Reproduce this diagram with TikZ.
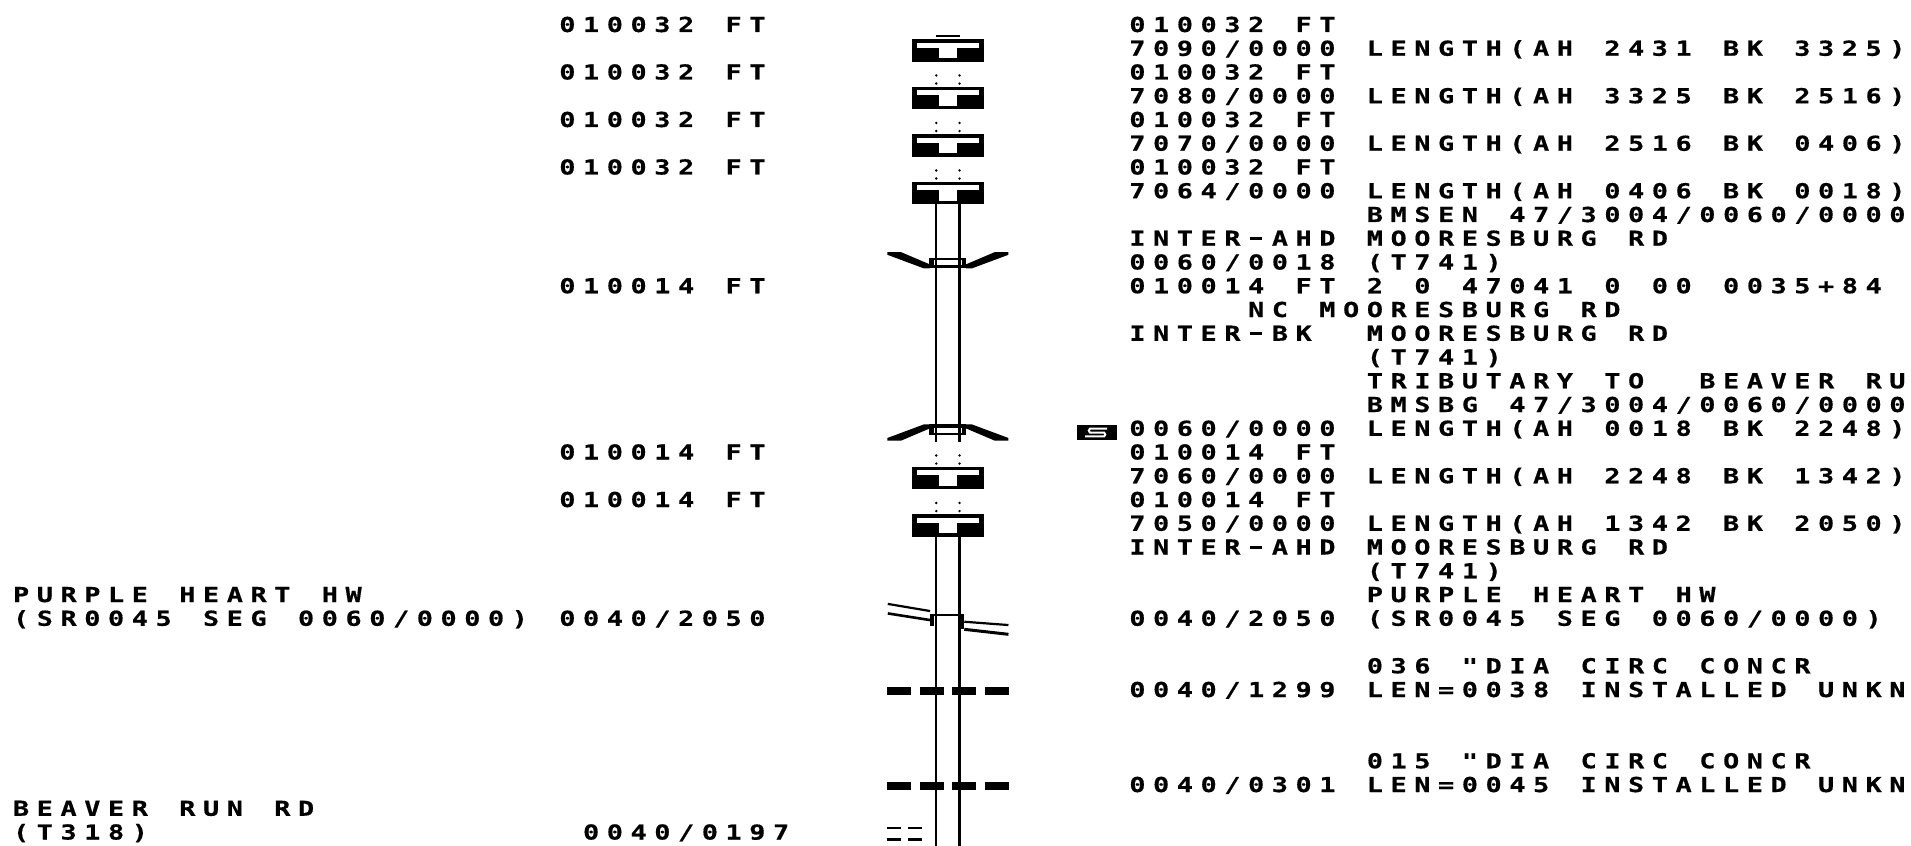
\documentclass[tikz,border=0pt]{standalone}
\usepackage{fontspec}
\usepackage{tikz}
\newfontfamily\sldfont{DejaVu Sans Mono}[FakeStretch=1.3,FakeBold=0.6]

% one character per grid cell
\newlength\sldcell
\setlength\sldcell{23.75pt}
\makeatletter
\def\sld@stop{\sld@stop}
\def\sldtext#1{\sld@word#1 \@nil}
\def\sld@word#1 #2\@nil{\sld@chars#1\sld@stop
  \ifx\relax#2\relax\else\makebox[\sldcell]{}\sld@word#2\@nil\fi}
\def\sld@chars#1{\ifx#1\sld@stop\else\sld@cell{#1}\expandafter\sld@chars\fi}
\def\sld@cell#1{\makebox[\sldcell]{\ifx-#1\rule[6pt]{12pt}{2.8pt}\else#1\fi}}
\makeatother

\begin{document}
\begin{tikzpicture}[x=23.75pt,y=-23.75pt,
  road/.style={line width=2.2pt},
  txt/.style={anchor=base west,inner sep=0pt,outer sep=0pt,
    font=\sldfont\bfseries\fontsize{20.6pt}{24pt}\selectfont}]
\useasboundingbox (-47.39,-1.347) rectangle (33.07,34.27);

% left column
\foreach \r in {0,2,4,6} {
\node[txt] (lft\r) at (-24,\r) {\sldtext{010032 FT}};
}
\foreach \r in {11,18,20} {
\node[txt] (lft\r) at (-24,\r) {\sldtext{010014 FT}};
}
\node[txt] (lphw) at (-47,24) {\sldtext{PURPLE HEART HW}};
\node[txt] (lphwseg) at (-47,25) {\sldtext{(SR0045 SEG 0060/0000)}};
\node[txt] (lft25) at (-24,25) {\sldtext{0040/2050}};
\node[txt] (lbrr) at (-47,33) {\sldtext{BEAVER RUN RD}};
\node[txt] (lbrrt) at (-47,34) {\sldtext{(T318)}};
\node[txt] (lft34) at (-23,34) {\sldtext{0040/0197}};

% right column
\node[txt] (r0) at (0,0) {\sldtext{010032 FT}};
\node[txt] (r1) at (0,1) {\sldtext{7090/0000 LENGTH(AH 2431 BK 3325)}};
\node[txt] (r2) at (0,2) {\sldtext{010032 FT}};
\node[txt] (r3) at (0,3) {\sldtext{7080/0000 LENGTH(AH 3325 BK 2516)}};
\node[txt] (r4) at (0,4) {\sldtext{010032 FT}};
\node[txt] (r5) at (0,5) {\sldtext{7070/0000 LENGTH(AH 2516 BK 0406)}};
\node[txt] (r6) at (0,6) {\sldtext{010032 FT}};
\node[txt] (r7) at (0,7) {\sldtext{7064/0000 LENGTH(AH 0406 BK 0018)}};
\node[txt] (r8) at (10,8) {\sldtext{BMSEN 47/3004/0060/0000}};
\node[txt] (r9) at (0,9) {\sldtext{INTER-AHD MOORESBURG RD}};
\node[txt] (r10) at (0,10) {\sldtext{0060/0018 (T741)}};
\node[txt] (r11) at (0,11) {\sldtext{010014 FT 2 0 47041 0 00 0035+84}};
\node[txt] (r12) at (5,12) {\sldtext{NC MOORESBURG RD}};
\node[txt] (r13) at (0,13) {\sldtext{INTER-BK~ MOORESBURG RD}};
\node[txt] (r14) at (10,14) {\sldtext{(T741)}};
\node[txt] (r15) at (10,15) {\sldtext{TRIBUTARY TO~ BEAVER RU}};
\node[txt] (r16) at (10,16) {\sldtext{BMSBG 47/3004/0060/0000}};
\node[txt] (r17) at (0,17) {\sldtext{0060/0000 LENGTH(AH 0018 BK 2248)}};
\node[txt] (r18) at (0,18) {\sldtext{010014 FT}};
\node[txt] (r19) at (0,19) {\sldtext{7060/0000 LENGTH(AH 2248 BK 1342)}};
\node[txt] (r20) at (0,20) {\sldtext{010014 FT}};
\node[txt] (r21) at (0,21) {\sldtext{7050/0000 LENGTH(AH 1342 BK 2050)}};
\node[txt] (r22) at (0,22) {\sldtext{INTER-AHD MOORESBURG RD}};
\node[txt] (r23) at (10,23) {\sldtext{(T741)}};
\node[txt] (r24) at (10,24) {\sldtext{PURPLE HEART HW}};
\node[txt] (r25) at (0,25) {\sldtext{0040/2050 (SR0045 SEG 0060/0000)}};
\node[txt] (r27) at (10,27) {\sldtext{036 "DIA CIRC CONCR}};
\node[txt] (r28) at (0,28) {\sldtext{0040/1299 LEN=0038 INSTALLED UNKN}};
\node[txt] (r31) at (10,31) {\sldtext{015 "DIA CIRC CONCR}};
\node[txt] (r32) at (0,32) {\sldtext{0040/0301 LEN=0045 INSTALLED UNKN}};

% culverts
\draw[line width=2.3pt] (-8.0,0.17) -- (-6.96,0.17);
\foreach \r in {1,3,5,7,19,21} {
\fill (-8.99,\r-0.69) rectangle (-5.97,\r+0.25);
\fill[white] (-8.80,\r-0.55) rectangle (-6.16,\r-0.34);
\fill[white] (-7.85,\r-0.34) rectangle (-7.11,\r+0.11);
}
\foreach \r in {3,5,7,19,21} {
\foreach \x in {-7.97,-6.99} {
\fill (\x,\r-1.17) circle[radius=1.3pt];
\fill (\x,\r-0.83) circle[radius=1.3pt];
}
}

% bridge ends
\fill (-8.255,9.50) rectangle (-6.705,9.95);
\fill[white] (-8.06,9.60) rectangle (-6.90,9.81);
\fill (-10.03,9.27) -- (-9.45,9.27) -- (-8.25,9.78) -- (-8.25,9.95) -- (-8.5,9.95) -- (-10.03,9.38) -- cycle;
\fill (-4.93,9.27) -- (-5.51,9.27) -- (-6.71,9.78) -- (-6.71,9.95) -- (-6.46,9.95) -- (-4.93,9.38) -- cycle;
\fill (-8.255,16.525) rectangle (-6.705,16.975);
\fill[white] (-8.06,16.665) rectangle (-6.90,16.875);
\fill (-10.03,17.205) -- (-9.45,17.205) -- (-8.25,16.695) -- (-8.25,16.525) -- (-8.5,16.525) -- (-10.03,17.095) -- cycle;
\fill (-4.93,17.205) -- (-5.51,17.205) -- (-6.71,16.695) -- (-6.71,16.525) -- (-6.46,16.525) -- (-4.93,17.095) -- cycle;

% road edges
\foreach \x in {-7.97,-6.99} {
\draw[road] (\x,7.25) -- (\x,17.25);
\draw[road] (\x,21.25) -- (\x,34.3);
}

% purple heart hw
\draw[road] (-10.01,24.08) -- (-8.23,24.38);
\draw[line width=2.6pt] (-10.01,24.48) -- (-8.23,24.76);
\draw[line width=3.6pt] (-8.15,24.5) -- (-8.15,25.0);
\draw[road] (-8.23,24.54) -- (-6.80,24.54);
\draw[line width=3.2pt] (-6.86,24.5) -- (-6.86,25.15);
\draw[road] (-6.79,24.83) -- (-4.93,24.97);
\draw[line width=3pt] (-6.79,25.15) -- (-4.93,25.36);

% pipes
\foreach \r in {28,32} {
\foreach \c in {-9.53,-8.145,-6.8,-5.425} {
\draw[line width=8pt] (\c-0.51,\r-0.255) -- (\c+0.51,\r-0.255);
}
}
\foreach \c in {-9.76,-8.85} {
\foreach \y in {33.51,34.0} {
\draw[line width=2.3pt] (\c-0.295,\y) -- (\c+0.295,\y);
}
}

% structure flag
\fill (-2.03,16.55) rectangle (-0.37,17.18);
\draw[white,line width=2pt] (-0.78,16.70) -- (-1.50,16.70) to[out=180,in=180] (-1.50,16.865) -- (-0.90,16.865) to[out=0,in=0] (-0.90,17.03) -- (-1.70,17.03);
\end{tikzpicture}
\end{document}
